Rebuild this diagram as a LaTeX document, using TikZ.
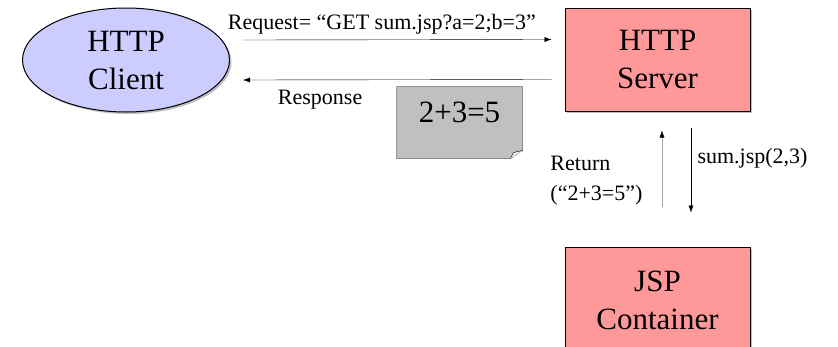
\documentclass[tikz,border=0pt]{standalone}
\usepackage{fontspec}
\setmainfont{Liberation Serif}
\usetikzlibrary{shapes.geometric,shadows,arrows.meta,backgrounds}
\definecolor{clientblue}{RGB}{204,204,255}
\definecolor{serverred}{RGB}{255,153,153}
\definecolor{notegray}{RGB}{192,192,192}
\begin{document}
\begin{tikzpicture}[x=1pt,y=-1pt,line width=1pt,
  big/.style={font=\fontsize{31}{38}\selectfont\rmfamily,align=center},
  small/.style={font=\fontsize{22}{30}\selectfont\rmfamily},
  shade/.style={drop shadow={shadow xshift=2pt,shadow yshift=-2pt}},
  box/.style={big,draw,fill=serverred,shade,minimum width=185pt,minimum height=103pt,inner sep=0pt},
  arr/.style={-{Latex[length=7pt,width=5pt,color=black]}}]
  \useasboundingbox (0,0) rectangle (838,346);
  \clip (0,0) rectangle (838,346);
  % the three parties
  \node[ellipse,draw,fill=clientblue,shade,big,minimum width=207pt,minimum height=104pt,inner sep=0pt]
     (client) at (126,60) {HTTP\\Client};
  \node[box] (server) at (657.5,59.5) {HTTP\\Server};
  \node[box,minimum height=106pt] (jsp) at (657.5,300) {JSP\\Container};
  % the page that comes back
  \node[big,minimum width=125pt,minimum height=71pt,inner sep=0pt,text height=21pt,text depth=21pt]
     (note) at (459.5,122.5) {2+3=5};
  \begin{pgfonlayer}{background}
  \draw[fill=notegray] (note.north west) -- (note.north east) -- ([yshift=8pt]note.south east)
     -- ([xshift=-12pt]note.south east) -- (note.south west) -- cycle;
  \draw[fill=white!85!gray] ([yshift=8pt]note.south east) -- ([xshift=-9pt,yshift=6pt]note.south east)
     -- ([xshift=-12pt]note.south east); % folded corner
  \end{pgfonlayer}
  % request and response
  \draw[arr] ([xshift=13pt,yshift=20pt]client.east)
     -- node[small,above=2pt,pos=0.45] (req) {Request= “GET sum.jsp?a=2;b=3”}
     ([xshift=-13pt,yshift=20pt]server.west);
  \draw[arr] ([xshift=-13pt,yshift=-20pt]server.west)
     -- node[small,below=7pt,pos=0.75] (resp) {Response}
     ([xshift=13pt,yshift=-20pt]client.east);
  % call and return
  \draw[arr] ([xshift=33.5pt,yshift=-16pt]server.south)
     -- node[small,right=3pt,pos=0.36] (call) {sum.jsp(2,3)}
     ([xshift=33.5pt,yshift=34pt]jsp.north);
  \draw[arr,draw=gray!70] ([xshift=4.5pt,yshift=40pt]jsp.north)
     -- node[small,left=16pt,pos=0.34,align=left] (ret) {Return\\(“2+3=5”)}
     ([xshift=4.5pt,yshift=-19pt]server.south);
\end{tikzpicture}
\end{document}
